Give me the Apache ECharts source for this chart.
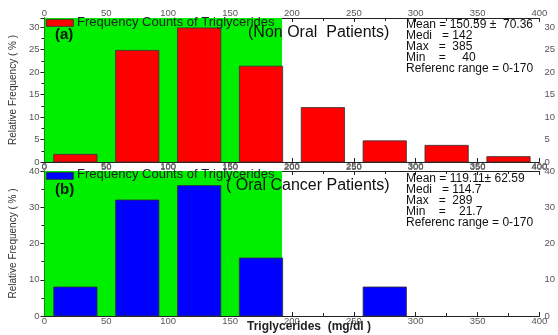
<!DOCTYPE html>
<html><head><meta charset="utf-8">
<script src="https://cdn.jsdelivr.net/npm/echarts@6/dist/echarts.min.js"></script>
<style>html,body{margin:0;padding:0;background:#fff}#c{width:558px;height:335px}</style>
</head><body><div id="c"></div>
<script>
var binCenters = [25, 75, 125, 175, 225, 275, 325, 375];
var binWidthFrac = 0.7;
var binSize = 50;
var nonOralValues = [1.7, 24.8, 29.8, 21.3, 12.1, 4.7, 3.7, 1.2];
var oralCancerValues = [8, 32, 36, 16, 0, 8, 0, 0];
var referenceRange = [0, 192];
var legendText = 'Frequency Counts of Triglycerides';
var panelLabels = ['(a)', '(b)'];
var panelTitles = ['(Non Oral  Patients)', '( Oral Cancer Patients)'];
var statsA = ['Mean = 150.59 \u00b1  70.36', 'Medi   = 142', 'Max   =  385', 'Min    =     40', 'Referenc range = 0-170'];
var statsB = ['Mean = 119.11\u00b1 62.59', 'Medi   = 114.7', 'Max   =  289', 'Min    =    21.7', 'Referenc range = 0-170'];
var xTitle = 'Triglycerides  (mg/dl )';
var yTitle = 'Relative Frequency ( % )';
var yMax = [32, 40];
var yInterval = [5, 10];

var chart = echarts.init(document.getElementById('c'));
var font = 'Arial, "Liberation Sans", sans-serif';
var lineStyle = {color: '#222', width: 1};
function xAx(gi, pos) {
  return {type: 'value', gridIndex: gi, position: pos, min: 0, max: 400, interval: 50,
    axisLine: {show: true, onZero: false, lineStyle: lineStyle},
    axisTick: {show: true, inside: true, length: 4, lineStyle: lineStyle},
    minorTick: {show: true, splitNumber: 2, length: 3, lineStyle: lineStyle},
    axisLabel: {show: true, fontSize: 9.5, color: '#555', fontFamily: font, margin: 0},
    splitLine: {show: false}};
}
function yAx(gi, pos) {
  return {type: 'value', gridIndex: gi, position: pos, min: 0, max: yMax[gi], interval: yInterval[gi],
    axisLine: {show: true, lineStyle: lineStyle},
    axisTick: {show: true, inside: true, length: 4, lineStyle: lineStyle},
    minorTick: {show: true, splitNumber: 2, length: 3, lineStyle: lineStyle},
    axisLabel: {show: true, fontSize: 9.5, color: '#555', fontFamily: font, margin: 5,
      showMaxLabel: gi === 1},
    splitLine: {show: false},
    name: pos === 'left' ? yTitle : '', nameLocation: 'middle', nameGap: 13,
    nameTextStyle: {fontSize: 10, color: '#333', fontFamily: font}};
}
function bgSeries(gi) {
  return {type: 'custom', xAxisIndex: gi * 2, yAxisIndex: gi * 2, z: 1, silent: true,
    data: [referenceRange],
    renderItem: function (params, api) {
      var cs = params.coordSys;
      var p0 = api.coord([api.value(0), 0]);
      var p1 = api.coord([api.value(1), 0]);
      return {type: 'rect', shape: {x: p0[0], y: cs.y, width: p1[0] - p0[0], height: cs.height},
        style: {fill: '#00ee00'}};
    }};
}
function barSeries(gi, vals, color) {
  return {type: 'custom', xAxisIndex: gi * 2, yAxisIndex: gi * 2, z: 3,
    data: binCenters.map(function (c, i) { return [c, vals[i]]; }),
    renderItem: function (params, api) {
      var c = api.value(0), v = api.value(1);
      if (!v) return null;
      var half = binSize * binWidthFrac / 2;
      var a = api.coord([c - half, v]);
      var b = api.coord([c + half, 0]);
      return {type: 'rect', shape: {x: a[0], y: a[1], width: b[0] - a[0], height: b[1] - a[1]},
        style: {fill: color, stroke: '#333', lineWidth: 0.8}};
    }};
}
function txt(left, top, text, size, weight, color) {
  return {type: 'text', left: left, top: top, z: 10,
    style: {text: text, fontSize: size, fontWeight: weight || 'normal', fill: color || '#111', fontFamily: font}};
}
var graphics = [
  {type: 'rect', left: 46, top: 19, z: 10, shape: {width: 27, height: 7}, style: {fill: '#ff0000', stroke: '#333', lineWidth: 0.8}},
  txt(77, 15.5, legendText, 13, 'normal', '#222'),
  {type: 'rect', left: 46, top: 172, z: 10, shape: {width: 27, height: 7}, style: {fill: '#0000ff', stroke: '#333', lineWidth: 0.8}},
  txt(77, 168, legendText, 13, 'normal', '#222'),
  txt(55, 27, panelLabels[0], 15, 'bold'),
  txt(55, 182, panelLabels[1], 15, 'bold'),
  txt(248, 25, panelTitles[0], 16, 'normal'),
  txt(226, 177.5, panelTitles[1], 16, 'normal'),
  {type: 'text', left: 406, top: 18.5, z: 10, style: {text: statsA.join('\n'), fontSize: 12, lineHeight: 11, fill: '#111', fontFamily: font}},
  {type: 'text', left: 406, top: 172.5, z: 10, style: {text: statsB.join('\n'), fontSize: 12, lineHeight: 11, fill: '#111', fontFamily: font}},
  txt(247, 321, xTitle, 12, 'bold', '#222')
];
chart.setOption({
  animation: false,
  backgroundColor: '#fff',
  grid: [
    {left: 42, right: 12, top: 18, height: 144, show: false},
    {left: 42, right: 12, top: 171, height: 145, show: false}
  ],
  xAxis: [xAx(0, 'bottom'), xAx(0, 'top'), xAx(1, 'bottom'), xAx(1, 'top')],
  yAxis: [yAx(0, 'left'), yAx(0, 'right'), yAx(1, 'left'), yAx(1, 'right')],
  series: [bgSeries(0), barSeries(0, nonOralValues, '#ff0000'), bgSeries(1), barSeries(1, oralCancerValues, '#0000ff')],
  graphic: graphics
});
</script></body></html>
